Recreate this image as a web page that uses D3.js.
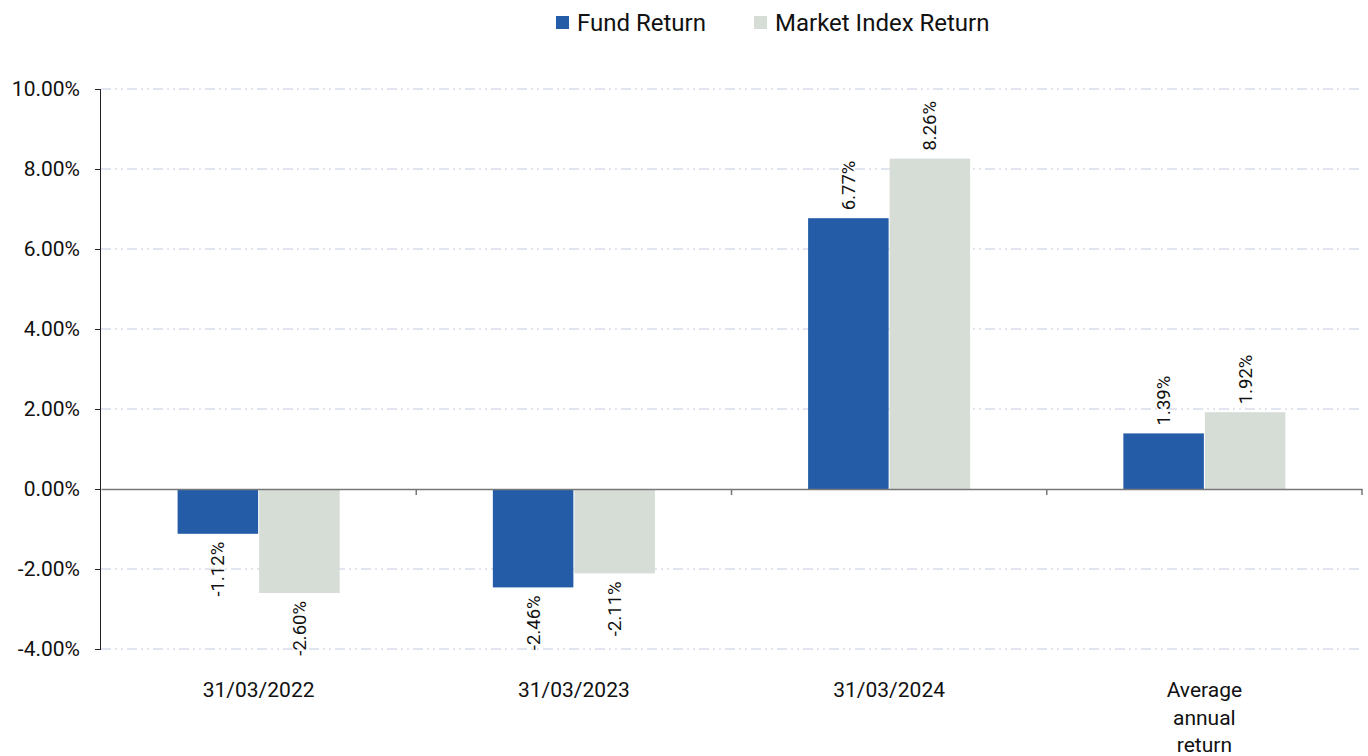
<!DOCTYPE html>
<html lang="en">
<head>
  <meta charset="UTF-8">
  <script src="https://d3js.org/d3.v7.min.js"></script>
  <style>
    body { margin: 0; background: #fff; }
    text { font-family: Roboto, "Liberation Sans", sans-serif; fill: #111; }
  </style>
</head>
<body>
  <svg id="chart" width="1368" height="756"></svg>
  <script>
    // data
    const categories = ["31/03/2022", "31/03/2023", "31/03/2024", "Average annual return"];
    const seriesNames = ["Fund Return", "Market Index Return"];
    const fundReturn = [-1.12, -2.46, 6.77, 1.39];
    const indexReturn = [-2.60, -2.11, 8.26, 1.92];
    const yTicks = [-4, -2, 0, 2, 4, 6, 8, 10];
    const colors = ["#245ca8", "#d6ddd6"];

    const pct = v => v.toFixed(2) + "%";

    const svg = d3.select("#chart");
    const margin = { top: 89, right: 6, bottom: 107, left: 101 };
    const width = 1368 - margin.left - margin.right;
    const height = 756 - margin.top - margin.bottom;

    const g = svg.append("g").attr("transform", `translate(${margin.left},${margin.top})`);

    const x0 = d3.scaleBand().domain(categories).range([0, width]).padding(0);
    const groupW = x0.bandwidth() * 0.514;
    const x1 = d3.scaleBand().domain(seriesNames)
      .range([(x0.bandwidth() - groupW) / 2, (x0.bandwidth() + groupW) / 2])
      .paddingInner(0.0125);
    const y = d3.scaleLinear().domain([-4, 10]).range([height, 0]);
    const color = d3.scaleOrdinal().domain(seriesNames).range(colors);

    // gridlines
    g.append("g").selectAll("line").data(yTicks.filter(t => t !== 0)).join("line")
      .attr("x1", 0).attr("x2", width)
      .attr("y1", d => y(d)).attr("y2", d => y(d))
      .attr("stroke", "#c5cce0").attr("stroke-width", 1)
      .attr("stroke-dasharray", "10,4,2,4,2,4");

    // y axis
    const yAxis = g.append("g")
      .call(d3.axisLeft(y).tickValues(yTicks).tickSize(6).tickPadding(15).tickFormat(pct));
    yAxis.select(".domain").attr("stroke", "#222").attr("d", `M-0.5,${y(-4)}V${y(10)}`);
    yAxis.selectAll(".tick line").attr("stroke", "#222");
    yAxis.selectAll(".tick text").attr("font-size", 21).style("font-family", "Roboto").attr("fill", "#111");

    const rows = categories.map((c, i) => ({ cat: c, values: [fundReturn[i], indexReturn[i]] }));

    // bars
    const groups = g.selectAll("g.grp").data(rows).join("g")
      .attr("class", "grp")
      .attr("transform", d => `translate(${x0(d.cat)},0)`);

    groups.selectAll("rect").data(d => d.values.map((v, j) => ({ s: seriesNames[j], v })))
      .join("rect")
      .attr("x", d => x1(d.s))
      .attr("width", x1.bandwidth())
      .attr("y", d => y(Math.max(0, d.v)))
      .attr("height", d => Math.abs(y(d.v) - y(0)))
      .attr("fill", d => color(d.s));

    // value labels, rotated
    groups.selectAll("text.val").data(d => d.values.map((v, j) => ({ s: seriesNames[j], v })))
      .join("text")
      .attr("class", "val")
      .attr("font-size", 18.5)
      .attr("dy", "0.35em")
      .attr("text-anchor", d => d.v >= 0 ? "start" : "end")
      .attr("transform", d => {
        const cx = x1(d.s) + x1.bandwidth() / 2;
        const cy = d.v >= 0 ? y(d.v) - 8 : y(d.v) + 8;
        return `translate(${cx},${cy}) rotate(-90)`;
      })
      .text(d => pct(d.v));

    // zero line with category ticks
    const xAxis = g.append("g").attr("transform", `translate(0,${y(0)})`)
      .call(d3.axisBottom(x0).tickSize(0).tickFormat(""));
    xAxis.select(".domain").attr("stroke", "#777").attr("stroke-width", 1.5);
    g.append("g").selectAll("line").data(categories).join("line")
      .attr("x1", d => x0(d) + x0.bandwidth()).attr("x2", d => x0(d) + x0.bandwidth())
      .attr("y1", y(0)).attr("y2", y(0) + 6)
      .attr("stroke", "#777").attr("stroke-width", 1.5);

    // category labels
    const catLabels = g.append("g").selectAll("text").data(categories).join("text")
      .attr("x", d => x0(d) + x0.bandwidth() / 2)
      .attr("y", height + 48)
      .attr("text-anchor", "middle")
      .attr("font-size", 21);
    catLabels.each(function (d) {
      const words = d.split(" ");
      const t = d3.select(this);
      if (words.length > 2) {
        words.forEach((w, i) => t.append("tspan")
          .attr("x", x0(d) + x0.bandwidth() / 2)
          .attr("dy", i === 0 ? 0 : 27.5).text(w));
      } else {
        t.text(d);
      }
    });

    // legend
    const legendItems = [{ name: seriesNames[0], x: 556 }, { name: seriesNames[1], x: 754 }];
    const legend = svg.append("g");
    legend.selectAll("rect").data(legendItems).join("rect")
      .attr("x", d => d.x).attr("y", 16).attr("width", 13).attr("height", 13)
      .attr("fill", d => color(d.name));
    legend.selectAll("text").data(legendItems).join("text")
      .attr("x", d => d.x + 21).attr("y", 23).attr("dy", "0.35em")
      .attr("font-size", 24)
      .text(d => d.name);
  </script>
</body>
</html>
